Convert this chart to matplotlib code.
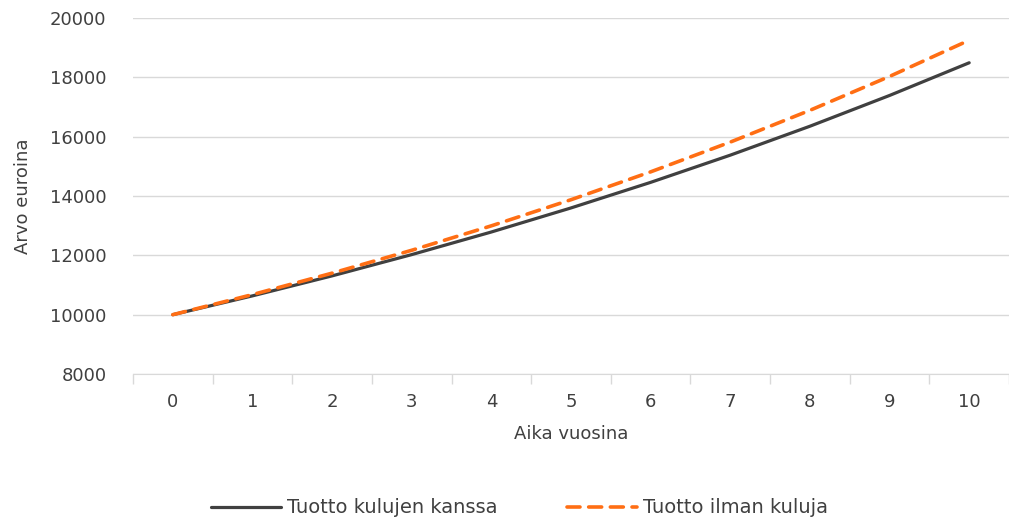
import matplotlib.pyplot as plt

YEARS = [0, 1, 2, 3, 4, 5, 6, 7, 8, 9, 10]
WITH_FEES = [10000, 10634, 11308, 12025, 12787, 13598, 14460, 15377, 16352, 17389, 18491]
NO_FEES = [10000, 10677, 11400, 12171, 12995, 13875, 14814, 15817, 16888, 18031, 19251]
Y_TICKS = [8000, 10000, 12000, 14000, 16000, 18000, 20000]

DARK = "#404040"
ORANGE = "#ff6e14"
GRID = "#d9d9d9"
TEXT = "#404040"

plt.rcParams["font.family"] = ["DejaVu Sans"]
plt.rcParams["font.size"] = 13

fig = plt.figure(figsize=(10.09, 5.22), dpi=100)
ax = fig.add_axes([0.1318, 0.2835, 0.8682, 0.682])

ax.plot(YEARS, WITH_FEES, color=DARK, linewidth=2.3, label="Tuotto kulujen kanssa",
        solid_capstyle="round")
ax.plot(YEARS, NO_FEES, color=ORANGE, linewidth=2.6, linestyle=(0, (3.6, 2.4)),
        label="Tuotto ilman kuluja", dash_capstyle="round")

ax.set_xlim(-0.5, 10.5)
ax.set_ylim(8000, 20000)
ax.set_yticks(Y_TICKS)
ax.set_xticks(YEARS)
ax.set_xticks([x - 0.5 for x in YEARS] + [10.5], minor=True)
ax.tick_params(axis="x", which="major", length=0, pad=14, colors=TEXT)
ax.tick_params(axis="x", which="minor", length=7, color=GRID, width=1)
ax.tick_params(axis="y", length=0, pad=19, colors=TEXT)
ax.grid(axis="y", color=GRID, linewidth=1)
ax.set_axisbelow(True)
for side in ["top", "right", "left"]:
    ax.spines[side].set_visible(False)
ax.spines["bottom"].set_color(GRID)

ax.set_xlabel("Aika vuosina", color=TEXT, labelpad=10)
ax.set_ylabel("Arvo euroina", color=TEXT, labelpad=13)

fig.legend(loc="center", bbox_to_anchor=(0.515, 0.027), ncol=2, frameon=False,
           fontsize=14, handlelength=3.6, handletextpad=0.3, columnspacing=3.6,
           labelcolor=TEXT)

fig.savefig("out.png", dpi=100)
